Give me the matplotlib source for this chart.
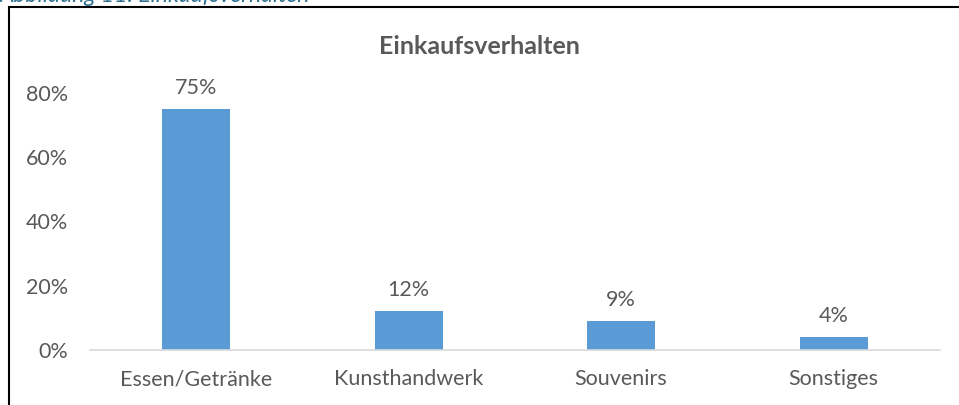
import matplotlib.pyplot as plt
from matplotlib.patches import Rectangle
from matplotlib.ticker import FuncFormatter

categories = ["Essen/Getränke", "Kunsthandwerk", "Souvenirs", "Sonstiges"]
shares = [0.75, 0.12, 0.09, 0.04]
ytick_values = [0, 0.2, 0.4, 0.6, 0.8]

plt.rcParams['font.family'] = ['Lato', 'DejaVu Sans']
grey = '#595959'

fig = plt.figure(figsize=(9.59, 4.05), dpi=100)
ax = fig.add_axes([0.0938, 0.1358, 0.8862, 0.714])

x = range(len(categories))
bars = ax.bar(x, shares, width=0.32, color='#5B9BD5')
for b, v in zip(bars, shares):
    ax.annotate(f"{v:.0%}", (b.get_x() + b.get_width() / 2, v), textcoords="offset points",
                xytext=(0, 8), ha='center', va='bottom', fontsize=15.5, color=grey)

ax.set_xlim(-0.5, len(categories) - 0.5)
ax.set_ylim(0, 0.9)
ax.set_yticks(ytick_values)
ax.yaxis.set_major_formatter(FuncFormatter(lambda v, p: f"{v:.0%}"))
ax.set_xticks(list(x))
ax.set_xticklabels(categories)
ax.tick_params(axis='both', length=0, labelsize=15.5, labelcolor=grey)
ax.tick_params(axis='y', pad=16)
ax.tick_params(axis='x', pad=14)
for s in ['top', 'right', 'left']:
    ax.spines[s].set_visible(False)
ax.spines['bottom'].set_color('#D9D9D9')
ax.spines['bottom'].set_linewidth(1.2)

fig.text(0.5, 0.885, "Einkaufsverhalten", ha='center', va='center', fontsize=18,
         fontweight='bold', color=grey)

# chart frame and caption cut off at the top
fig.patches.append(Rectangle((9 / 959, -0.1), 1.2, 1 - 7 / 405 + 0.1, transform=fig.transFigure,
                             fill=False, edgecolor='black', linewidth=1.5))
fig.text(0.0, 1.0 + 5 / 405, "Abbildung 11: Einkaufsverhalten", ha='left', va='center',
         fontsize=16.5, fontstyle='italic', color='#2E6E8E')

fig.savefig("out.png", dpi=100)
